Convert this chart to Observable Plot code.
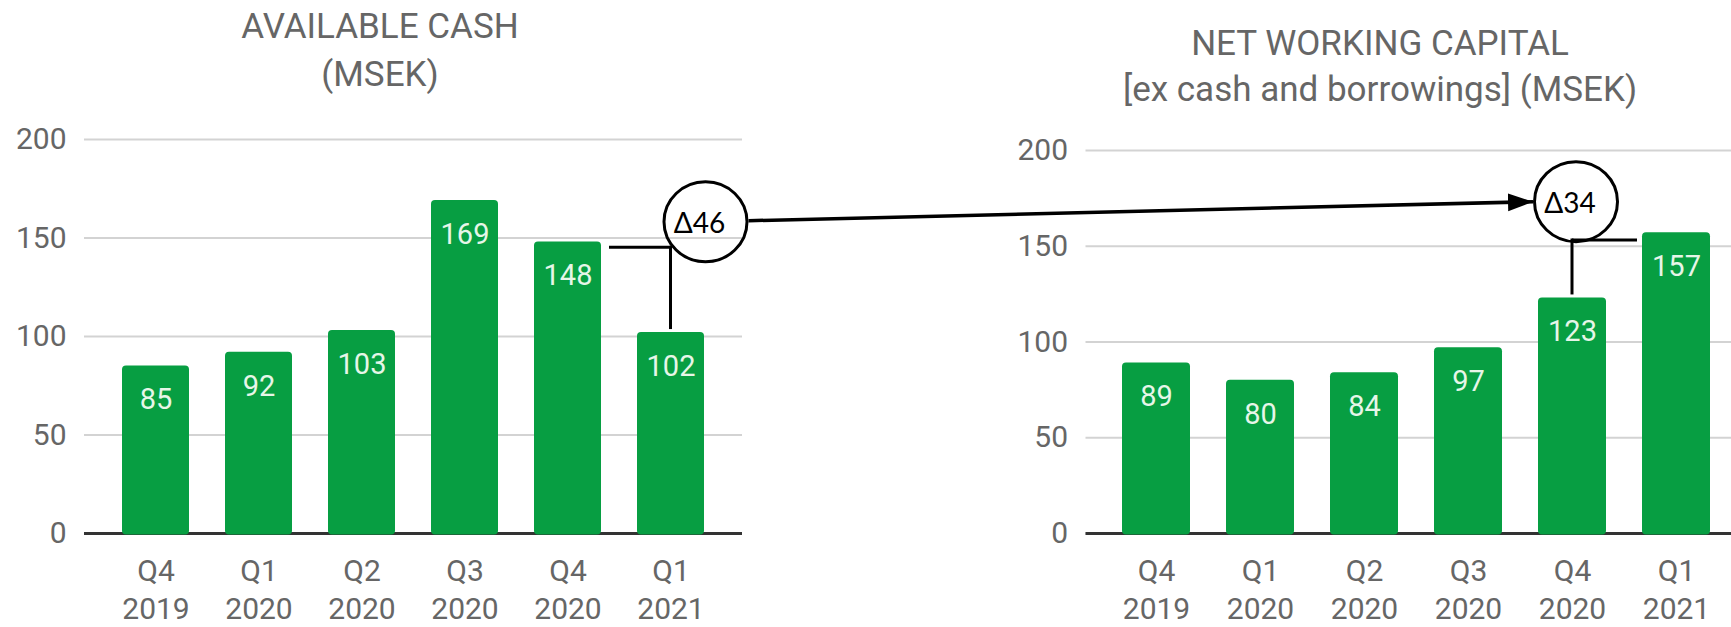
<!DOCTYPE html>
<html><head><meta charset="utf-8">
<script src="https://cdn.jsdelivr.net/npm/d3@7"></script>
<script src="https://cdn.jsdelivr.net/npm/@observablehq/plot@0.6"></script>
<style>
html,body{margin:0;padding:0;width:1731px;height:627px;overflow:hidden;background:#fff;}
#root{position:relative;width:1731px;height:627px;overflow:hidden;}
.panel{position:absolute;top:0;width:760px;height:627px;}
.title{position:absolute;left:0;right:0;text-align:center;font-family:Roboto,sans-serif;font-size:35px;color:#666;white-space:nowrap;}
.chart{position:absolute;left:0;top:105px;}
#overlay{position:absolute;left:0;top:0;pointer-events:none;}
</style></head><body><div id="root"></div>
<script>
// ---- data ----
const categories = ["Q4 2019","Q1 2020","Q2 2020","Q3 2020","Q4 2020","Q1 2021"];
const cashValues = [85,92,103,169,148,102];
const nwcValues  = [89,80,84,97,123,157];
const yTicks = [0,50,100,150,200];
const cashTitle = ["AVAILABLE CASH","(MSEK)"];
const nwcTitle  = ["NET WORKING CAPITAL","[ex cash and borrowings] (MSEK)"];
// annotations: higher bar category, lower bar category, connector level, circle level
const deltaLabels = ["Δ46","Δ34"];
const deltaHigh   = ["Q4 2020","Q1 2021"];
const deltaLow    = ["Q1 2021","Q4 2020"];
const deltaLevel  = [145,153];
const deltaCircle = [158,173];

const root = document.getElementById("root");
const green = "#079e42";

function makePanel(left, titleLines, titleTop, lineH, values, ml, mr, mt) {
  const panel = document.createElement("div");
  panel.className = "panel";
  panel.style.left = left + "px";
  const t = document.createElement("div");
  t.className = "title";
  t.style.top = titleTop + "px";
  t.style.lineHeight = lineH + "px";
  t.innerHTML = titleLines.join("<br>");
  panel.appendChild(t);
  const data = categories.map((c,i)=>({cat:c, v:values[i]}));
  const plot = Plot.plot({
    width: 760, height: 522,
    marginLeft: ml, marginRight: mr, marginTop: mt, marginBottom: 94,
    style: {fontFamily: "Roboto, sans-serif", fontSize: "30px", color: "#666", background: "transparent", overflow: "visible"},
    x: {domain: categories, padding: 0.35, label: null},
    y: {domain: [0,200], label: null},
    marks: [
      Plot.gridY(yTicks, {stroke: "#d3d3d3", strokeOpacity: 1, strokeWidth: 2}),
      Plot.axisY(yTicks, {tickSize: 0, tickPadding: 18, fontSize: 30, fill: "#666", label: null}),
      Plot.axisX({tickSize: 0, tickPadding: 21, fontSize: 30, fill: "#666", lineHeight: 1.25, tickFormat: d => d.replace(" ", "\n"), label: null}),
      Plot.ruleY([0], {stroke: "#333", strokeWidth: 3}),
      Plot.barY(data, {x: "cat", y: "v", fill: green, rx: 4, insetBottom: -1.5}),
      Plot.text(data, {x: "cat", y: "v", text: d => String(d.v), dy: 34, fill: "#e6f6e8", fontSize: 29})
    ]
  });
  const wrap = document.createElement("div");
  wrap.className = "chart";
  wrap.appendChild(plot);
  panel.appendChild(wrap);
  root.appendChild(panel);
  return {plot, left, top: 105, values};
}

const p1 = makePanel(0, cashTitle, 3, 48, cashValues, 84, 18, 34);
const p2 = makePanel(1000, nwcTitle, 21, 46, nwcValues, 85.5, 13.5, 45);

// ---- annotation overlay, positioned through each plot's scales ----
const svg = d3.select(root).append("svg").attr("id","overlay").attr("width",1731).attr("height",627);
svg.append("defs").append("marker")
  .attr("id","arrow").attr("markerUnits","userSpaceOnUse")
  .attr("markerWidth",26).attr("markerHeight",20).attr("refX",25).attr("refY",9)
  .attr("orient","auto")
  .append("path").attr("d","M0,0L25,9L0,18Z").attr("fill","#000");

const circleDx = [35, 4];
const rx = 41.5, ry = 40;
const circles = [];
[p1, p2].forEach((p, i) => {
  const xs = p.plot.scale("x"), ys = p.plot.scale("y");
  const bw = xs.bandwidth;
  const X = c => p.left + xs.apply(c);
  const Y = v => p.top + ys.apply(v);
  const lowVal = p.values[categories.indexOf(deltaLow[i])];
  const lowC = X(deltaLow[i]) + bw / 2;
  const hiStart = X(deltaHigh[i]);
  const lvl = Y(deltaLevel[i]);
  const hiEdge = hiStart < lowC ? hiStart + bw + 8 : hiStart - 5;
  svg.append("line").attr("x1", hiEdge).attr("x2", lowC).attr("y1", lvl).attr("y2", lvl)
    .attr("stroke","#000").attr("stroke-width",3);
  svg.append("line").attr("x1", lowC).attr("x2", lowC).attr("y1", lvl - 1.5).attr("y2", Y(lowVal) - 3)
    .attr("stroke","#000").attr("stroke-width",3);
  const cx = lowC + circleDx[i], cy = Y(deltaCircle[i]);
  circles.push({cx, cy});
  svg.append("ellipse").attr("cx", cx).attr("cy", cy).attr("rx", rx).attr("ry", ry)
    .attr("fill","none").attr("stroke","#000").attr("stroke-width",3);
  svg.append("text").attr("x", cx - 6).attr("y", cy).attr("text-anchor","middle")
    .attr("dominant-baseline","central").attr("font-family","Lato, sans-serif")
    .attr("font-size",28).attr("fill","#000").text(deltaLabels[i]);
});
svg.append("line")
  .attr("x1", circles[0].cx + rx + 1.5).attr("y1", circles[0].cy - 1)
  .attr("x2", circles[1].cx - rx - 1.5).attr("y2", circles[1].cy)
  .attr("stroke","#000").attr("stroke-width",3.5).attr("marker-end","url(#arrow)");
</script>
</body></html>
